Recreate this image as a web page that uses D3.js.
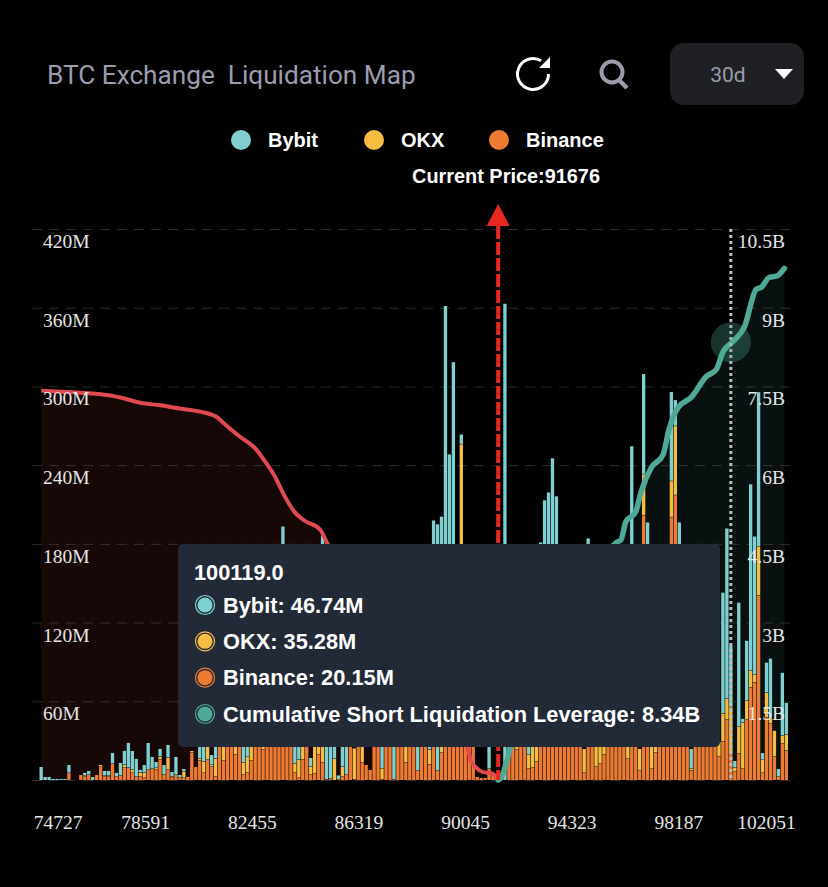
<!DOCTYPE html>
<html>
<head>
<meta charset="utf-8">
<script src="https://cdn.jsdelivr.net/npm/d3@7"></script>
<style>
  html, body { margin: 0; padding: 0; background: #000; }
  svg { display: block; }
  text { font-family: "Liberation Sans", sans-serif; }
  .axisText text { font-family: "Liberation Serif", serif; font-size: 19.5px; fill: #e6e6e6; }
</style>
</head>
<body>
<script>
// tick labels
var priceTicks = ["74727", "78591", "82455", "86319", "90045", "94323", "98187", "102051"];
var leftTicks = [0, 60, 120, 180, 240, 300, 360, 420];
var rightTicks = [1.5, 3, 4.5, 6, 7.5, 9, 10.5];

// liquidation per price bucket, in millions, one entry per bar
var bybit = [
  9.9,2.3,2.3,.8,.8,.8,.8,6.1,0,0,
  0,2.3,3.1,2.3,0,0,3.8,3.8,8.4,3.1,
  9.9,10.7,19.1,14.5,13.8,2.3,6.1,20.6,9.2,4.6,
  6.1,7.6,9.9,3.8,13.8,2.3,2.3,0,0,0,
  15.3,22.9,0,7.6,19.1,0,0,0,0,0,
  0,19.1,15.3,0,0,0,0,0,0,0,
  0,155,0,0,19.1,15.3,0,0,6.9,0,
  0,158,30.6,30.6,11.5,3.1,15.3,26.7,0,0,
  0,0,0,0,0,0,19.1,0,0,30.6,
  0,0,0,0,0,22.9,0,0,6.1,152,
  188,174,315.5,202.4,265,0,7.6,0,0,0,
  0,0,0,19.1,0,0,0,363,0,0,
  0,0,0,9.2,0,0,150.5,182.6,173.4,199.4,
  170.4,0,0,0,0,0,0,0,146,0,
  0,0,0,0,0,0,0,0,0,208.6,
  0,0,76.4,150.5,0,0,0,0,0,68,
  19.9,150.5,0,0,15.3,0,0,0,0,0,
  0,0,92.4,129.9,46.74,5.3,94.7,3.1,45.8,142.1,
  105.4,117.6,5.3,22.9,45.1,0,6.1,48.1,24.4
];
var okx = [
  0,0,0,0,0,0,0,0,0,0,
  0,.8,0,0,0,1.5,.8,.8,0,0,
  0,2.3,0,2.3,0,3.1,3.8,0,0,1.5,
  2.3,0,9.2,.8,0,0,4.6,0,1.5,0,
  1.5,8.4,15.3,1.5,13.8,0,15.3,0,0,11.5,
  0,9.2,12.2,15.3,0,0,6.1,0,0,0,
  0,0,0,0,6.9,13.8,15.3,0,6.1,22.9,
  9.2,15.3,0,0,16,0,7.6,0,0,23.7,
  0,15.3,0,0,0,0,8.4,0,0,0,
  0,0,15.3,0,0,0,0,0,11.5,0,
  0,6.1,0,0,0,0,210,0,0,0,
  0,0,0,0,0,0,0,0,0,0,
  6.1,0,0,10.7,19.1,15.3,0,0,0,0,
  0,0,0,0,0,0,0,18.3,0,0,
  15.3,13,9.2,0,0,0,0,0,11.5,0,
  0,16.8,31.3,0,19.1,7.6,0,0,0,27.5,
  52.7,0,0,0,1.5,0,0,0,0,0,
  0,11.5,21.4,16,35.28,3.1,20.6,35.1,14.5,13,
  6.1,37.4,9.9,19.1,4.6,19.9,0,6.1,12.2
];
var binance = [
  0,0,0,0,0,0,0,5.3,0,0,
  3.8,2.3,3.8,0,3.8,9.9,2.3,2.3,12.2,2.3,
  3.1,9.2,9.2,5.3,2.3,2.3,1.5,7.6,8.4,7.6,
  15.3,3.8,7.6,1.5,3.8,1.5,1.5,2.3,20.6,9.9,
  14.5,5.3,15.3,9.9,2.3,38.2,14.5,34.4,45.8,19.1,
  30.6,3.8,5.3,14.5,30.6,38.2,22.9,30.6,38.2,45.8,
  34.4,38.2,45.8,30.6,5.3,1.5,15.3,34.4,3.8,4.6,
  19.1,13,.3,.8,0,.4,2.3,3.8,34.4,.4,
  26.7,13,11.5,7.6,30.6,30.6,.4,38.2,38.2,.4,
  38.2,38.2,13,45.8,45.8,6.9,38.2,38.2,11.5,45.8,
  6.9,20.6,45.8,45.8,53.5,38.2,45.8,30.6,30.6,34.4,
  2.3,1.5,1.5,8.4,4.6,1.5,0,0,30.6,34.4,
  22.9,38.2,38.2,8.4,9.2,13.8,30.6,30.6,45.8,45.8,
  45.8,38.2,38.2,38.2,38.2,38.2,38.2,5.3,38.2,38.2,
  9.9,12.2,19.1,38.2,38.2,38.2,38.2,38.2,16,45.8,
  38.2,6.9,201.7,45.8,8.4,20.6,38.2,38.2,38.2,200.2,
  217,45.8,38.2,38.2,6.9,38.2,38.2,38.2,38.2,38.2,
  38.2,17.6,29,45.8,20.15,6.1,19.9,8.4,45.8,70.3,
  74.1,140.6,5.3,47.4,42.8,17.6,2.3,27.5,22.2
];

// cumulative lines, in billions, read at these bar positions
var longAt = [0,5,15,20,25,30,35,40,44,46.5,50,54,56.5,59,61.5,64,66.5,70.4,72.4,80,90,100,107.5,108.5,109.8,111.5,113.6,114.8,115.3];
var longCum = [7.42,7.40,7.35,7.29,7.19,7.14,7.08,7.02,6.93,6.77,6.55,6.32,6.07,5.78,5.40,5.10,4.94,4.77,4.48,4.0,3.0,1.8,.63,.36,.23,.15,.13,.06,0];
var shortAt = [115.3,116,118.5,125,135,145,146.3,147.5,150,151.3,153.9,156.9,158.4,160.7,164,167.8,170.3,172.1,174.6,177.4,180.4,181.7,183.7,185.5,187.5];
var shortCum = [0,.04,.63,1.6,3.0,4.52,4.58,4.92,5.11,5.48,5.95,6.20,6.68,7.10,7.29,7.69,7.82,8.17,8.36,8.63,9.35,9.39,9.58,9.60,9.75];

var currentPriceIndex = 115.3, hoverIndex = 174;

var legendNames = ["Bybit", "OKX", "Binance"];
var tooltipTitle = "100119.0";
var tooltipRows = ["Bybit: 46.74M", "OKX: 35.28M", "Binance: 20.15M", "Cumulative Short Liquidation Leverage: 8.34B"];

var width = 828, height = 887;
var colors = { Bybit: "#7fd1d1", OKX: "#f6bd41", Binance: "#ee7b32", short: "#4fa996", long: "#e04a50" };

var svg = d3.select("body").append("svg").attr("width", width).attr("height", height);

//header
svg.append("text").attr("x", 47).attr("y", 84).attr("fill", "#9b9daf")
  .style("font-family", "Roboto").style("font-size", "26.2px")
  .attr("xml:space", "preserve").text("BTC Exchange  Liquidation Map");

svg.append("path").attr("fill", "none").attr("stroke", "#fff").attr("stroke-width", 3)
  .attr("d", d3.arc()({ innerRadius: 15.5, outerRadius: 15.5, startAngle: 1.57, endAngle: 2 * Math.PI + 0.55 }))
  .attr("transform", "translate(533,74)");
svg.append("path").attr("fill", "#fff").attr("d", "M550 57 L550 68 L539 68 Z");

svg.append("circle").attr("cx", 612).attr("cy", 72).attr("r", 10.5).attr("fill", "none").attr("stroke", "#9b9daf").attr("stroke-width", 4);
svg.append("line").attr("x1", 619).attr("y1", 80).attr("x2", 627).attr("y2", 88).attr("stroke", "#9b9daf").attr("stroke-width", 4.5);

svg.append("rect").attr("x", 670).attr("y", 43).attr("width", 134).attr("height", 62).attr("rx", 14).attr("fill", "#1f2024");
svg.append("text").attr("x", 728).attr("y", 82).attr("text-anchor", "middle").attr("fill", "#9b9daf")
  .style("font-family", "Roboto").style("font-size", "21px").text("30d");
svg.append("path").attr("fill", "#fff").attr("d", "M775 69 L793 69 L784 79 Z");

//legend
var legendX = d3.scaleOrdinal().domain(legendNames).range([241, 374, 499]);
var legend = svg.append("g").selectAll("g").data(legendNames).enter().append("g")
  .attr("transform", function (d) { return "translate(" + legendX(d) + ",140)"; });
legend.append("circle").attr("r", 10).attr("fill", function (d) { return colors[d]; });
legend.append("text").attr("x", 27).attr("y", 7).attr("fill", "#fff")
  .style("font-size", "20px").style("font-weight", "bold").text(function (d) { return d; });

svg.append("text").attr("x", 506).attr("y", 183).attr("text-anchor", "middle").attr("fill", "#fff")
  .style("font-size", "19.9px").style("font-weight", "bold").text("Current Price:91676");

//scales
var categories = d3.range(bybit.length);
var x = d3.scaleBand().domain(categories).range([39.5, 788]).paddingInner(0.16);
var xPos = d3.scaleLinear().domain([0, categories.length - 1]).range([x(0) + x.bandwidth() / 2, x(categories.length - 1) + x.bandwidth() / 2]);
var yLeft = d3.scaleLinear().domain([0, 420]).range([780, 229]);
var yRight = d3.scaleLinear().domain([0, 10.5]).range([780, 229]);
var xTicks = d3.scalePoint().domain(priceTicks).range([38.5, 785]);

//grid with the left axis
var leftAxis = svg.append("g").attr("class", "axisText").attr("transform", "translate(32,0)")
  .call(d3.axisRight(yLeft).tickValues(leftTicks).tickSize(763).tickFormat(function (d) { return d ? d + "M" : ""; }));
leftAxis.select(".domain").remove();
leftAxis.selectAll("line").attr("stroke", "#2b2b2b").attr("stroke-dasharray", "10,7");
leftAxis.selectAll("text").remove();

//area under the cumulative lines
var longPoints = d3.zip(longAt, longCum), shortPoints = d3.zip(shortAt, shortCum);
var area = d3.area().x(function (d) { return xPos(d[0]); }).y0(yRight(0)).y1(function (d) { return yRight(d[1]); });
var line = d3.line().curve(d3.curveMonotoneX).x(function (d) { return xPos(d[0]); }).y(function (d) { return yRight(d[1]); });
svg.append("path").datum(longPoints).attr("d", area).attr("fill", "#e04a50").attr("fill-opacity", 0.1);
svg.append("path").datum(shortPoints).attr("d", area).attr("fill", "#4fa996").attr("fill-opacity", 0.1);

//stacked bars, a small dark seam is left between the segments
var table = categories.map(function (i) { return { i: i, Bybit: bybit[i], OKX: okx[i], Binance: binance[i] }; });
var stacked = d3.stack().keys(["Binance", "OKX", "Bybit"])(table);
svg.append("g").selectAll("g").data(stacked).enter().append("g")
  .attr("fill", function (d) { return colors[d.key]; })
  .selectAll("rect").data(function (d) { return d; }).enter().append("rect")
  .attr("x", function (d) { return x(d.data.i); })
  .attr("width", x.bandwidth())
  .attr("y", function (d) { return yLeft(d[1]); })
  .attr("height", function (d) { return Math.max(0, yLeft(d[0]) - yLeft(d[1]) - (d[0] > 0 ? 0.5 : 0)); });

//cumulative lines
svg.append("path").datum(longPoints).attr("d", line).attr("fill", "none").attr("stroke", colors.long).attr("stroke-width", 4).attr("stroke-linejoin", "round");
svg.append("path").datum(shortPoints).attr("d", line).attr("fill", "none").attr("stroke", colors.short).attr("stroke-width", 5.5).attr("stroke-linejoin", "round").attr("stroke-linecap", "round");

//current price marker
var priceX = xPos(currentPriceIndex);
svg.append("line").attr("x1", priceX).attr("x2", priceX).attr("y1", 226).attr("y2", 780)
  .attr("stroke", "#e8281f").attr("stroke-width", 4).attr("stroke-dasharray", "13,3");
svg.append("path").attr("fill", "#e8281f")
  .attr("d", d3.line()([[priceX, 204], [priceX + 11.5, 226], [priceX - 11.5, 226]]) + "Z");

//hover line and emphasis
var hoverX = xPos(hoverIndex);
svg.append("line").attr("x1", hoverX).attr("x2", hoverX).attr("y1", 229).attr("y2", 780)
  .attr("stroke", "#bdbdbd").attr("stroke-width", 3).attr("stroke-dasharray", "3,3");
svg.append("circle").attr("cx", hoverX).attr("cy", yRight(8.34)).attr("r", 20).attr("fill", colors.short).attr("fill-opacity", 0.3);

//axis labels sit above the bars
var leftLabels = svg.append("g").attr("class", "axisText").attr("transform", "translate(43,0)")
  .call(d3.axisRight(yLeft).tickValues(leftTicks.slice(1)).tickSize(0).tickPadding(0).tickFormat(function (d) { return d + "M"; }));
leftLabels.select(".domain").remove();
leftLabels.selectAll("text").attr("dy", 18.5);

var rightLabels = svg.append("g").attr("class", "axisText").attr("transform", "translate(785,0)")
  .call(d3.axisLeft(yRight).tickValues(rightTicks).tickSize(0).tickPadding(0).tickFormat(function (d) { return d + "B"; }));
rightLabels.select(".domain").remove();
rightLabels.selectAll("text").attr("dy", 18.5);

var bottomLabels = svg.append("g").attr("class", "axisText").attr("transform", "translate(0,815)")
  .call(d3.axisBottom(xTicks).tickSize(0));
bottomLabels.select(".domain").remove();
bottomLabels.selectAll("text").attr("dy", 11)
  .attr("dx", function (d, i) { return i == 0 ? 19 : i == priceTicks.length - 1 ? -19 : 0; });

//tooltip
var tip = svg.append("g").attr("transform", "translate(178,544)");
tip.append("rect").attr("width", 542).attr("height", 203).attr("rx", 5).attr("fill", "#222a38");
tip.append("text").attr("x", 16).attr("y", 36).attr("fill", "#fff")
  .style("font-size", "21.8px").style("font-weight", "bold").text(tooltipTitle);
var tipColors = [colors.Bybit, colors.OKX, colors.Binance, colors.short];
var tipY = d3.scalePoint().domain(tooltipRows).range([61, 170]);
var rows = tip.selectAll(".row").data(tooltipRows).enter().append("g").attr("class", "row")
  .attr("transform", function (d) { return "translate(27," + tipY(d) + ")"; });
rows.append("circle").attr("r", 9.5).attr("fill", "none").attr("stroke-width", 1.2)
  .attr("stroke", function (d, i) { return tipColors[i]; });
rows.append("circle").attr("r", 7.5).attr("fill", function (d, i) { return tipColors[i]; });
rows.append("text").attr("x", 18).attr("y", 7.5).attr("fill", "#fff")
  .style("font-size", "21.8px").style("font-weight", "bold").text(function (d) { return d; });
</script>
</body>
</html>
